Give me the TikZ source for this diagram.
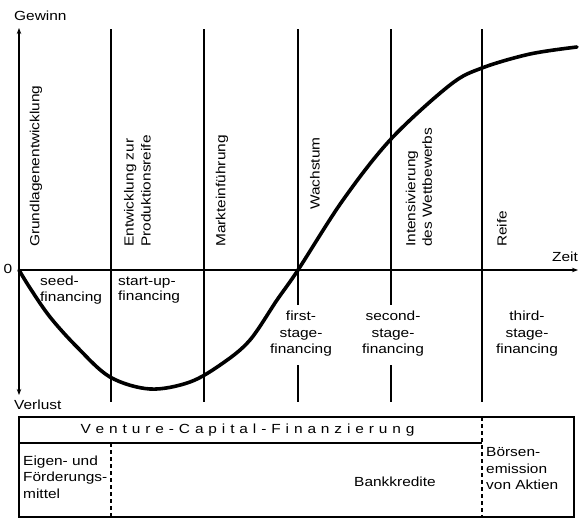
\documentclass[tikz,border=0pt]{standalone}
\usepackage{fontspec}
\setmainfont{Liberation Sans}[FakeStretch=1.17]
\usetikzlibrary{arrows.meta}
\newcommand\lspaced[1]{\lspacedA#1\relax}
\def\lspacedA#1{\ifx#1\relax\else#1\kern4.9pt\expandafter\lspacedA\fi}
\begin{document}
\begin{tikzpicture}[x=1pt,y=-1pt,
  every node/.style={inner sep=0pt, font=\fontsize{13.2}{16.5}\selectfont},
  axis/.style={line width=1.8pt},
  tip/.style={-{Stealth[length=6pt,width=4.5pt]}},
  phase/.style={line width=1.8pt},
  curve/.style={line width=3.6pt, line cap=round},
  boxline/.style={line width=1.5pt},
  dashline/.style={line width=1.6pt, dash pattern=on 4pt off 3pt},
  vlabel/.style={rotate=90, anchor=west, align=left},
  ]
\useasboundingbox (0,0) rectangle (579,520);
% axes
\coordinate (O) at (19,270);
\coordinate (Ytop) at (19,28);
\coordinate (Ybot) at (19,395);
\coordinate (Xend) at (578,270);
\draw[axis,tip] (O) -- (Ytop);
\draw[axis,tip] (O) -- (Ybot);
\draw[axis,tip] (O) -- (Xend);
\node[anchor=west] (gewinn) at (14,16) {Gewinn};
\node (null) at (8,269) {0};
\node[anchor=west] (zeit) at (552,257) {Zeit};
\node[anchor=west] (verlust) at (14,405) {Verlust};
% phase lines
\foreach \n/\x in {a/111,b/204,e/482}{
  \coordinate (\n t) at (\x,29);
  \coordinate (\n b) at (\x,402);
  \draw[phase] (\n t) -- (\n b);
}
\foreach \n/\x in {c/298,d/391}{
  \coordinate (\n t) at (\x,29);
  \coordinate (\n m1) at (\x,305);
  \coordinate (\n m2) at (\x,365);
  \coordinate (\n b) at (\x,402);
  \draw[phase] (\n t) -- (\n m1);
  \draw[phase] (\n m2) -- (\n b);
}
% phase names
\node[vlabel] (p1) at (36,247) {Grundlagenentwicklung};
\node[vlabel, font=\fontsize{13.2}{17}\selectfont] (p2) at (137.5,247) {Entwicklung zur\\Produktionsreife};
\node[vlabel] (p3) at (222,247) {Markteinführung};
\node[vlabel] (p4) at (315,210) {Wachstum};
\node[vlabel, font=\fontsize{13.2}{16.5}\selectfont] (p5) at (419,247) {Intensivierung\\des Wettbewerbs};
\node[vlabel] (p6) at (502,247) {Reife};
% financing stages
\node[anchor=west, align=left, font=\fontsize{13.2}{15.5}\selectfont] (f1) at (40,290) {seed-\\financing};
\node[anchor=west, align=left, font=\fontsize{13.2}{15.5}\selectfont] (f2) at (118,290) {start-up-\\financing};
\node[align=center] (f3) at (301,334) {first-\\stage-\\financing};
\node[align=center] (f4) at (393,334) {second-\\stage-\\financing};
\node[align=center] (f5) at (527,334) {third-\\stage-\\financing};
% profit curve
\draw[curve] plot[smooth, tension=0.55] coordinates {
 (19,270) (30,288) (50,317) (77,347) (110,377) (150,389) (190,382)
 (223,363) (250,340) (277,300) (298,270) (343,200) (391,139)
 (450,85) (482,68) (530,54) (577,47)};
% financing table
\coordinate (T1) at (19,417);
\coordinate (T2) at (574,517);
\coordinate (Ml) at (19,443);
\coordinate (Mr) at (482,443);
\coordinate (Dt) at (482,417);
\coordinate (Db) at (482,517);
\coordinate (Et) at (111,443);
\coordinate (Eb) at (111,517);
\draw[boxline] (T1) rectangle (T2);
\draw[boxline] (Ml) -- (Mr);
\draw[dashline] (Dt) -- (Db);
\draw[dashline] (Et) -- (Eb);
\node (vc) at (250,430) {\lspaced{Venture-Capital-Finanzierung}};
\node[anchor=west, align=left] (eig) at (23,477) {Eigen- und\\Förderungs-\\mittel};
\node (bank) at (395,482) {Bankkredite};
\node[anchor=west, align=left] (boe) at (486,469) {Börsen-\\emission\\von Aktien};
\end{tikzpicture}
\end{document}
